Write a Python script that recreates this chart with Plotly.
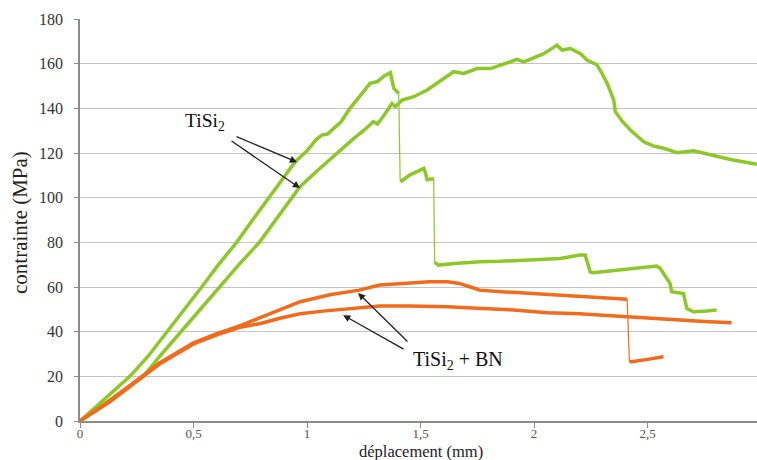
import plotly.graph_objects as go

# ---------------- data ----------------
# TiSi2 sample A (steeper curve with stepwise drops)
ga1_x = [0, 0.11, 0.22, 0.30, 0.385, 0.46, 0.536, 0.61, 0.69, 0.76, 0.834, 0.89, 0.947, 1.0, 1.04, 1.065, 1.09, 1.12, 1.15, 1.189, 1.23, 1.278, 1.31, 1.34, 1.367, 1.382, 1.404]
ga1_y = [0, 10, 20, 29, 40, 50, 60, 70, 80, 90, 100, 108, 116, 121, 126, 128, 128.5, 131, 134, 140, 145, 151.2, 152, 154.5, 156, 149, 146.6]
ga2_x = [1.41, 1.418, 1.45, 1.49, 1.514, 1.522, 1.529, 1.558]
ga2_y = [108, 107.5, 110, 112, 113.1, 111, 108, 108.6]
ga3_x = [1.562, 1.579, 1.65, 1.762, 1.85, 1.982, 2.115, 2.203, 2.225, 2.235, 2.247, 2.261, 2.4, 2.54, 2.555, 2.57, 2.599, 2.606, 2.658, 2.673, 2.702, 2.76, 2.804]
ga3_y = [71, 69.8, 70.5, 71.3, 71.5, 72, 72.8, 74.3, 74.3, 71, 66.8, 66.4, 68, 69.4, 68.4, 66.1, 61.6, 57.9, 57.1, 50.4, 48.9, 49.3, 49.7]
# sparse points of the sudden drops (thin connector)
ga_drop1_x = [1.404, 1.407, 1.41]
ga_drop1_y = [146.6, 128, 108]
ga_drop2_x = [1.558, 1.559, 1.562]
ga_drop2_y = [108.6, 89, 71]

# TiSi2 sample B
gb_x = [0, 0.1, 0.2, 0.279, 0.36, 0.444, 0.53, 0.613, 0.7, 0.79, 0.86, 0.932, 0.969, 1.05, 1.131, 1.2, 1.26, 1.292, 1.31, 1.34, 1.374, 1.389, 1.419, 1.47, 1.529, 1.59, 1.646, 1.69, 1.749, 1.808, 1.87, 1.925, 1.955, 2.0, 2.043, 2.101, 2.123, 2.16, 2.204, 2.233, 2.278, 2.3, 2.322, 2.351, 2.358, 2.39, 2.424, 2.483, 2.53, 2.571, 2.63, 2.703, 2.777, 2.865, 2.982]
gb_y = [0, 7, 14, 20, 30, 40, 50, 60, 70, 80, 90, 100, 104.9, 112.5, 120, 126, 131, 134, 133, 137, 142.2, 140.7, 143.7, 145.2, 148.2, 152.5, 156.4, 155.6, 157.8, 157.8, 160, 161.9, 160.8, 162.8, 164.5, 168.3, 166.1, 166.8, 164.5, 161.6, 159.4, 155.5, 151.2, 143.7, 138.5, 134, 130.3, 125, 123, 122.1, 120.1, 121, 119.1, 117.1, 115]

# TiSi2 + BN sample A (upper orange, with a drop)
oa1_x = [0, 0.13, 0.26, 0.35, 0.5, 0.6, 0.7, 0.8, 0.88, 0.97, 1.1, 1.23, 1.32, 1.45, 1.54, 1.62, 1.67, 1.72, 1.76, 1.87, 1.98, 2.1, 2.2, 2.3, 2.41]
oa1_y = [0, 9, 19, 26, 35, 39, 42.5, 46.5, 49.7, 53.4, 56.5, 58.6, 60.9, 62, 62.4, 62.3, 61.6, 60, 58.6, 57.8, 57.1, 56.4, 55.6, 55, 54.5]
oa2_x = [2.42, 2.43, 2.5, 2.57]
oa2_y = [26.6, 26.5, 27.6, 28.8]
oa_drop_x = [2.41, 2.415, 2.42]
oa_drop_y = [54.5, 40, 26.6]

# TiSi2 + BN sample B (lower orange)
ob_x = [0, 0.13, 0.26, 0.35, 0.5, 0.6, 0.7, 0.8, 0.88, 0.97, 1.07, 1.16, 1.32, 1.45, 1.62, 1.75, 1.91, 2.06, 2.2, 2.41, 2.63, 2.75, 2.87]
ob_y = [0, 8.5, 18.5, 25.5, 34.5, 38.5, 41.8, 43.8, 46.0, 48, 49.2, 50, 51.5, 51.5, 51.2, 50.5, 49.7, 48.5, 48, 46.7, 45.2, 44.6, 44]

x_ticks = [0, 0.5, 1, 1.5, 2, 2.5]
y_ticks = [0, 20, 40, 60, 80, 100, 120, 140, 160, 180]

GREEN = "#8CC928"
ORANGE = "#F26A1B"
SERIF = "Liberation Serif, Times New Roman, serif"

fig = go.Figure()

def thick(x, y, color):
    fig.add_trace(go.Scatter(x=x, y=y, mode="lines", line=dict(color=color, width=3.5),
                             showlegend=False, hoverinfo="skip"))

def thin(x, y, color):
    fig.add_trace(go.Scatter(x=x, y=y, mode="lines", line=dict(color=color, width=1.2),
                             showlegend=False, hoverinfo="skip"))

thin(ga_drop1_x, ga_drop1_y, GREEN)
thin(ga_drop2_x, ga_drop2_y, GREEN)
thin(oa_drop_x, oa_drop_y, ORANGE)
thick(ga1_x, ga1_y, GREEN)
thick(ga2_x, ga2_y, GREEN)
thick(ga3_x, ga3_y, GREEN)
thick(gb_x, gb_y, GREEN)
thick(ob_x, ob_y, ORANGE)
thick(oa1_x, oa1_y, ORANGE)
thick(oa2_x, oa2_y, ORANGE)

FW, FH = 757, 460
L, T, B = 80, 19, 39
PW = FW - L
PH = FH - T - B

ann = []
ann.append(dict(x=0.552, y=133.8, xref="x", yref="y", text="TiSi<sub>2</sub>", showarrow=False,
                font=dict(family=SERIF, size=19.5, color="#111")))
ann.append(dict(x=1.665, y=27.3, xref="x", yref="y", text="TiSi<sub>2</sub> + BN", showarrow=False,
                font=dict(family=SERIF, size=20, color="#111")))
arrows = [((0.683, 127.6), (0.956, 115.9)),
          ((0.661, 125.8), (0.969, 104.3)),
          ((1.449, 34.9), (1.225, 57.3)),
          ((1.432, 31.8), (1.159, 47.4))]
for (tx, ty), (hx, hy) in arrows:
    ann.append(dict(x=hx, y=hy, ax=tx, ay=ty, xref="x", yref="y", axref="x", ayref="y",
                    text="", showarrow=True, arrowhead=2, arrowsize=1.1, arrowwidth=1.3,
                    arrowcolor="#222"))
ann.append(dict(x=(421 - 80) / PW, y=-(451 - 421) / PH, xref="paper", yref="paper",
                text="déplacement (mm)", showarrow=False, xanchor="center", yanchor="middle",
                font=dict(family=SERIF, size=16.5, color="#222")))
ann.append(dict(x=(20 - 80) / PW, y=(421 - 223) / PH, xref="paper", yref="paper",
                text="contrainte (MPa)", showarrow=False, textangle=-90,
                xanchor="center", yanchor="middle",
                font=dict(family=SERIF, size=21, color="#222")))

fig.update_layout(
    width=FW, height=FH,
    margin=dict(l=L, r=0, t=T, b=B),
    paper_bgcolor="white", plot_bgcolor="white",
    separators=", ",
    annotations=ann,
    showlegend=False,
)
fig.update_xaxes(range=[0, 2.982], tickvals=x_ticks, showgrid=False, zeroline=False,
                 showline=True, linecolor="#8C8C8C", linewidth=1.5,
                 ticks="outside", ticklen=5, tickcolor="#8C8C8C", ticklabelstandoff=-5,
                 tickfont=dict(family=SERIF, size=13, color="#555"))
fig.update_yaxes(range=[0, 180], tickvals=y_ticks, showgrid=True, gridcolor="#C4C4C4", gridwidth=1,
                 zeroline=False, showline=True, linecolor="#8C8C8C", linewidth=1.5,
                 ticks="outside", ticklen=4, tickcolor="#8C8C8C", ticklabelstandoff=8,
                 tickfont=dict(family=SERIF, size=16, color="#333"))

fig.write_html(
    "out.html",
    config={"displayModeBar": False},
    post_script="document.body.style.margin='0';document.body.style.overflow='hidden';"
                "document.documentElement.style.overflow='hidden';",
)
